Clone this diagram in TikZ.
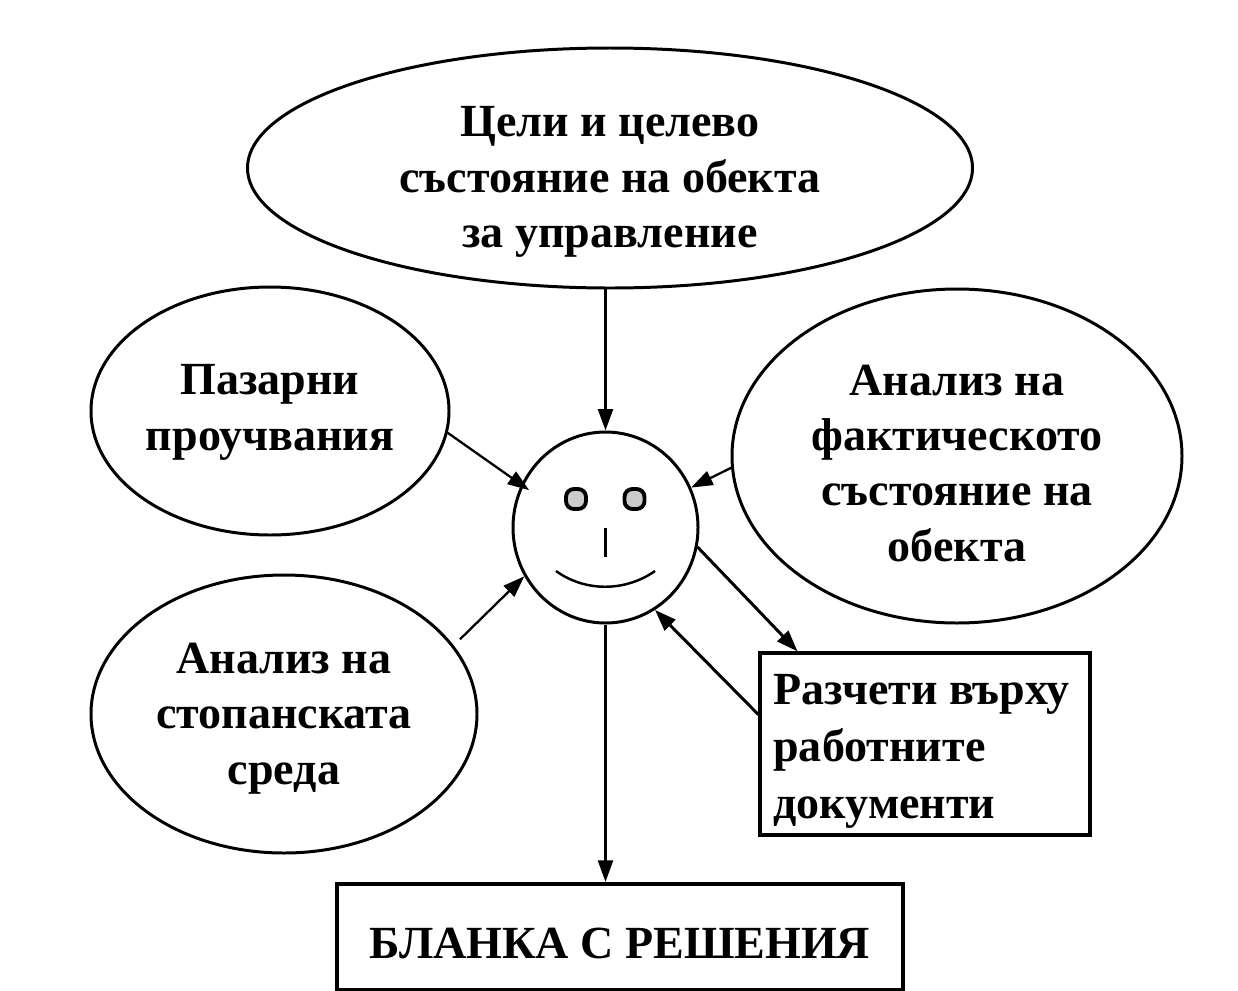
\documentclass[tikz,border=0pt]{standalone}
\usepackage{fontspec}
\setmainfont{Liberation Serif}
\usetikzlibrary{shapes.geometric,arrows.meta}
\tikzset{
    goal/.style={ellipse,draw,line width=1.7pt,inner sep=0,align=center,font=\fontsize{26.2}{31.5}\selectfont\bfseries},
    docbox/.style={rectangle,draw,line width=1.8pt,inner sep=0,font=\fontsize{26.2}{32.5}\selectfont\bfseries},
    eye/.style={rectangle,draw,line width=2.2pt,fill=black!20,rounded corners=4.5pt,minimum size=20*0.02cm,inner sep=0},
    flow/.style={line width=1.3pt,-{Triangle[length=4.3mm,width=3mm]}},
    thickflow/.style={flow,line width=1.7pt},
}
\begin{document}
\begin{tikzpicture}[x=0.02cm,y=-0.02cm]
    \useasboundingbox (0,0) rectangle (1238,991);
    \node[goal,minimum width=725*0.02cm,minimum height=240*0.02cm] (target) at (610,168) {Цели и целево\\състояние на обекта\\за управление\\[-42pt]};
    \node[goal,minimum width=358*0.02cm,minimum height=248*0.02cm] (market) at (270,411) {Пазарни\\проучвания\\[-27.5pt]};
    \node[goal,minimum width=450*0.02cm,minimum height=334*0.02cm] (actual) at (957,456) {Анализ на\\фактическото\\състояние на\\обекта\\[-39.6pt]};
    \node[goal,minimum width=386*0.02cm,minimum height=278*0.02cm] (economy) at (284,714) {Анализ на\\стопанската\\среда\\[-31pt]};
    \node[ellipse,draw,line width=1.7pt,minimum width=185*0.02cm,minimum height=191*0.02cm,inner sep=0] (face) at (605.5,527.5) {};
    \node[docbox,minimum width=330*0.02cm,minimum height=182*0.02cm,align=left] (calc) at (925,744) {Разчети върху\hspace*{4pt}\\работните\\документи\\[-34.8pt]};
    \node[docbox,line width=2.4pt,minimum width=566*0.02cm,minimum height=106*0.02cm,align=center] (form) at (620,937) {БЛАНКА С РЕШЕНИЯ\\[-40pt]};
    % eyes, nose, mouth
    \node[eye] (lefteye) at (576,499) {};
    \node[eye] (righteye) at (634.5,499) {};
    \coordinate (nosetop) at (605.5,528);
    \coordinate (nosebot) at (605.5,557);
    \draw[line width=1.2pt] (nosetop) -- (nosebot);
    \coordinate (mouthl) at (556,571);
    \coordinate (mouthr) at (655,571);
    \draw[line width=1.4pt] (mouthl) .. controls (585,592) and (625,592) .. (mouthr);
    % connectors
    \draw[flow] (target.south -| face.north) -- (face.north);
    \draw[flow,shorten >=-5.5pt] (market.353) -- (face.153);
    \draw[flow] (actual.183.6) -- (face.25);
    \draw[flow,shorten <=5pt] (economy.22) -- (face.211);
    \draw[thickflow] (face.348) -- (calc.144.5);
    \draw[thickflow] (calc.170.7) -- (face.301);
    \draw[flow] (face.south) -- (form.north -| face.south);
\end{tikzpicture}
\end{document}
